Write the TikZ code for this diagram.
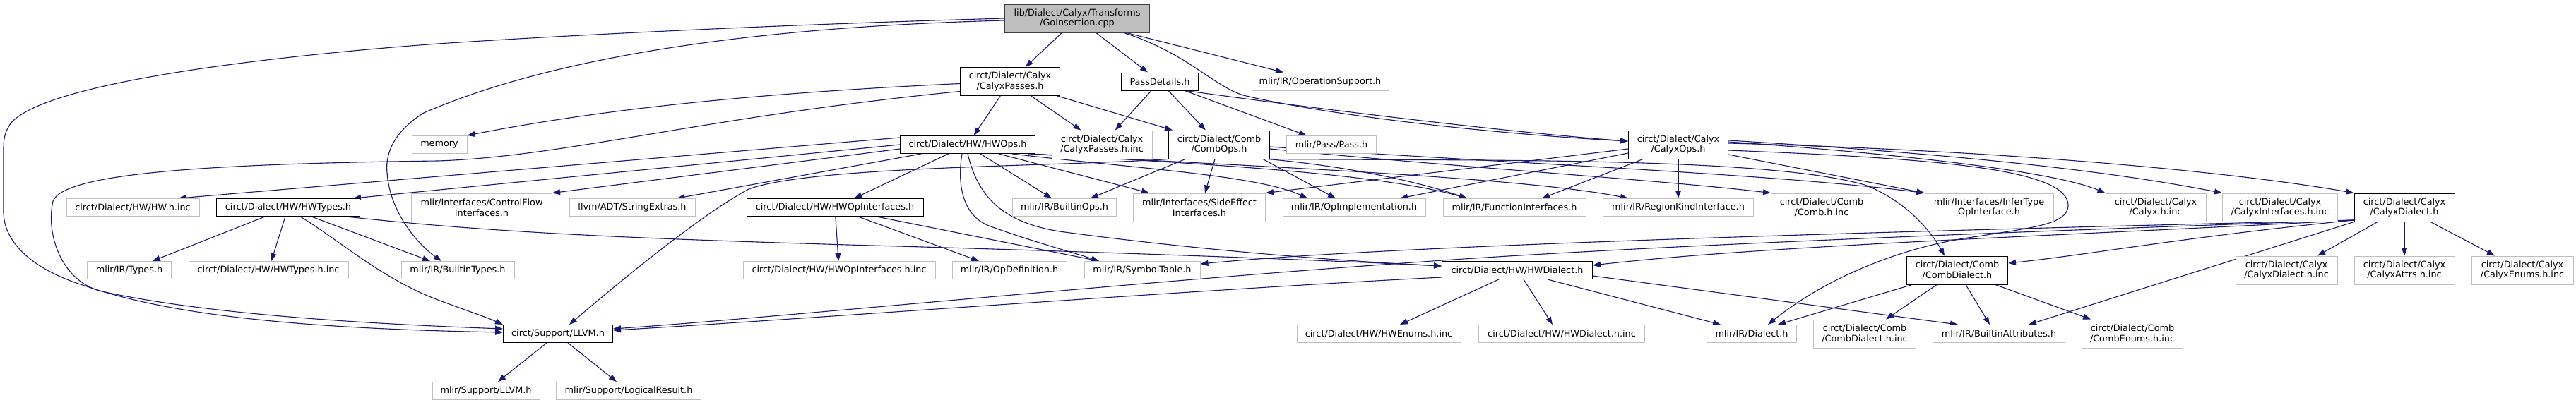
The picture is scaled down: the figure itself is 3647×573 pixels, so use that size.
\documentclass[tikz,border=0pt]{standalone}
\usepackage{fontspec}
\setmainfont{DejaVu Sans}
\usetikzlibrary{arrows.meta}
\pgfdeclarelayer{bg}
\pgfsetlayers{bg,main}
\definecolor{edgec}{HTML}{191970}
\definecolor{grayb}{HTML}{BFBFBF}
\definecolor{rootf}{HTML}{BFBFBF}
\definecolor{rootb}{HTML}{404040}
\newcommand\dgfont{\fontsize{12.8pt}{14.7pt}\selectfont}
\tikzset{
  box/.style={draw=grayb, line width=1pt, fill=white, inner xsep=4pt, inner ysep=1pt,
    align=center, font=\dgfont, minimum height=25pt},
  doc/.style={box, draw=black},
  root/.style={box, draw=rootb, fill=rootf},
  two/.style={minimum height=40pt},
  dep/.style={draw=edgec, line width=1.1pt, -{Triangle[length=11pt,width=8pt]}},
}
\begin{document}
\begin{tikzpicture}[x=1pt,y=-1pt]
\useasboundingbox (0,0) rectangle (3647,573);
% row 0
\node[root,two,minimum width=205pt] (G) at (1525,26) {lib/Dialect/Calyx/Transforms\\/GoInsertion.cpp};
% row 1
\node[doc,two,minimum width=141pt] (CP) at (1430,115.5) {circt/Dialect/Calyx\\/CalyxPasses.h};
\node[doc,minimum width=109pt] (PD) at (1642,115.5) {PassDetails.h};
\node[box,minimum width=194pt] (OS) at (1869,115.5) {mlir/IR/OperationSupport.h};
% row 2
\node[box,minimum width=78pt] (mem) at (622,205) {memory};
\node[doc,minimum width=191pt] (HO) at (1370,205) {circt/Dialect/HW/HWOps.h};
\node[box,two,minimum width=142pt] (CPinc) at (1560,205) {circt/Dialect/Calyx\\/CalyxPasses.h.inc};
\node[doc,two,minimum width=143pt] (CO) at (1726,205) {circt/Dialect/Comb\\/CombOps.h};
\node[box,minimum width=127pt] (PS) at (1885,205) {mlir/Pass/Pass.h};
\node[doc,two,minimum width=141pt] (CX) at (2376,205) {circt/Dialect/Calyx\\/CalyxOps.h};
% row 3
\node[box,minimum width=188pt] (HWinc) at (188,294) {circt/Dialect/HW/HW.h.inc};
\node[doc,minimum width=203pt] (HT) at (408,294) {circt/Dialect/HW/HWTypes.h};
\node[box,two,minimum width=199pt] (CF) at (682,294) {mlir/Interfaces/ControlFlow\\Interfaces.h};
\node[box,minimum width=178pt] (SE) at (895,294) {llvm/ADT/StringExtras.h};
\node[doc,minimum width=250pt] (HOI) at (1182,294) {circt/Dialect/HW/HWOpInterfaces.h};
\node[box,minimum width=147pt] (BO) at (1507,294) {mlir/IR/BuiltinOps.h};
\node[box,two,minimum width=187pt] (SEI) at (1698,294) {mlir/Interfaces/SideEffect\\Interfaces.h};
\node[box,minimum width=202pt] (OI) at (1917,294) {mlir/IR/OpImplementation.h};
\node[box,minimum width=202pt] (FI) at (2144,294) {mlir/IR/FunctionInterfaces.h};
\node[box,minimum width=213pt] (RK) at (2376,294) {mlir/IR/RegionKindInterface.h};
\node[box,two,minimum width=143pt] (CBinc) at (2579,294) {circt/Dialect/Comb\\/Comb.h.inc};
\node[box,two,minimum width=182pt] (IT) at (2816,294) {mlir/Interfaces/InferType\\OpInterface.h};
\node[box,two,minimum width=142pt] (CLinc) at (3052,294) {circt/Dialect/Calyx\\/Calyx.h.inc};
\node[box,two,minimum width=163pt] (CIinc) at (3228,294) {circt/Dialect/Calyx\\/CalyxInterfaces.h.inc};
\node[doc,two,minimum width=142pt] (CD) at (3404,294) {circt/Dialect/Calyx\\/CalyxDialect.h};
% row 4
\node[box,minimum width=119pt] (TY) at (183,383) {mlir/IR/Types.h};
\node[box,minimum width=226pt] (HTinc) at (380,383) {circt/Dialect/HW/HWTypes.h.inc};
\node[box,minimum width=160pt] (BT) at (648,383) {mlir/IR/BuiltinTypes.h};
\node[box,minimum width=272pt] (HOIinc) at (1188,383) {circt/Dialect/HW/HWOpInterfaces.h.inc};
\node[box,minimum width=162pt] (OD) at (1429,383) {mlir/IR/OpDefinition.h};
\node[box,minimum width=164pt] (ST) at (1617,383) {mlir/IR/SymbolTable.h};
\node[doc,minimum width=213pt] (HD) at (2148,383) {circt/Dialect/HW/HWDialect.h};
\node[doc,two,minimum width=143pt] (CBD) at (2771,383) {circt/Dialect/Comb\\/CombDialect.h};
\node[box,two,minimum width=144pt] (CDinc) at (3237,383) {circt/Dialect/Calyx\\/CalyxDialect.h.inc};
\node[box,two,minimum width=142pt] (CAinc) at (3404,383) {circt/Dialect/Calyx\\/CalyxAttrs.h.inc};
\node[box,two,minimum width=144pt] (CEinc) at (3571,383) {circt/Dialect/Calyx\\/CalyxEnums.h.inc};
% row 5
\node[doc,minimum width=155pt] (LL) at (790,473) {circt/Support/LLVM.h};
\node[box,minimum width=232pt] (HEinc) at (1952,473) {circt/Dialect/HW/HWEnums.h.inc};
\node[box,minimum width=235pt] (HDinc) at (2211,473) {circt/Dialect/HW/HWDialect.h.inc};
\node[box,minimum width=127pt] (DI) at (2480,473) {mlir/IR/Dialect.h};
\node[box,two,minimum width=145pt] (CBDinc) at (2640,473) {circt/Dialect/Comb\\/CombDialect.h.inc};
\node[box,minimum width=187pt] (BA) at (2830,473) {mlir/IR/BuiltinAttributes.h};
\node[box,two,minimum width=143pt] (CBEinc) at (3019,473) {circt/Dialect/Comb\\/CombEnums.h.inc};
% row 6
\node[box,minimum width=152pt] (ML) at (688,554) {mlir/Support/LLVM.h};
\node[box,minimum width=205pt] (LR) at (890,554) {mlir/Support/LogicalResult.h};

\begin{pgfonlayer}{bg}
% GoInsertion.cpp
\draw[dep] (G) -- (CP);
\draw[dep] (G) -- (PD);
\draw[dep] ([xshift=70pt]G.south) -- ([xshift=-52pt]OS.north);
\draw[dep] ([xshift=66pt]G.south) .. controls (1680,75) and (1715,120) .. (1760,135) .. controls (1900,168) and (2150,192) .. ([yshift=5pt]CX.west);
\draw[dep] ([yshift=-3pt]G.west) .. controls (1000,40) and (750,95) .. (600,160) .. controls (560,185) and (545,215) .. (548,245) .. controls (552,300) and (590,345) .. ([xshift=-23pt]BT.north);
\draw[dep] (G.west) .. controls (1100,35) and (800,50) .. (620,62) .. controls (350,82) and (60,120) .. (15,175) .. controls (5,190) and (5,200) .. (5,215) -- (5,300) .. controls (5,340) and (40,380) .. (120,405) .. controls (250,450) and (450,466) .. ([yshift=2pt]LL.west);
% CalyxPasses.h
\draw[dep] (CP) -- (HO);
\draw[dep] (CP) -- (CPinc);
\draw[dep] ([xshift=-4pt]CP.south east) -- ([xshift=6pt]CO.north west);
\draw[dep] ([yshift=-3pt]CP.west) .. controls (1000,135) and (800,165) .. (mem.north east);
\draw[dep] ([yshift=-14pt]CP.west) .. controls (1000,165) and (800,222) .. (620,228) .. controls (300,232) and (90,245) .. (75,285) .. controls (65,330) and (85,395) .. (140,412) .. controls (300,448) and (550,460) .. ([yshift=7pt]LL.west);
% PassDetails.h
\draw[dep] (PD) -- (CPinc);
\draw[dep] (PD) -- (CO);
\draw[dep] (PD) -- (PS);
\draw[dep] ([xshift=-18pt]PD.south east) .. controls (1760,140) and (2100,185) .. ([yshift=5pt]CX.west);
% HWOps.h
\draw[dep] ([yshift=10pt]HO.west) -- ([xshift=-30pt]HWinc.north east);
\draw[dep] (HO.west) -- ([xshift=-10pt]HT.north east);
\draw[dep] ([yshift=-6pt]HO.west) -- (CF.north east);
\draw[dep] ([xshift=30pt]HO.south west) -- ([xshift=-26pt]SE.north east);
\draw[dep] (HO) -- (HOI);
\draw[dep] ([xshift=-8pt]HO.south) .. controls (1355,260) and (1362,305) .. (1400,320) .. controls (1460,342) and (1520,358) .. ([xshift=-61pt]ST.north);
\draw[dep] (HO.south) .. controls (1385,280) and (1420,315) .. (1500,328) .. controls (1700,355) and (1900,370) .. ([yshift=6pt]HD.west);
\draw[dep] ([xshift=18pt]HO.south) -- ([xshift=-18pt]BO.north);
\draw[dep] ([xshift=44pt]HO.south) -- ([xshift=-71pt]SEI.north);
\draw[dep] ([xshift=63pt]HO.south) .. controls (1600,238) and (1780,248) .. ([xshift=-66pt]OI.north);
\draw[dep] ([xshift=-10pt]HO.south east) .. controls (1700,232) and (1950,245) .. ([xshift=-67pt]FI.north);
\draw[dep] ([xshift=-5pt]HO.south east) .. controls (1750,235) and (2150,250) .. ([xshift=-71pt]RK.north);
% CombOps.h
\draw[dep] (CO.south east) .. controls (2100,228) and (2500,222) .. (2640,262) .. controls (2700,285) and (2735,330) .. ([xshift=-18pt]CBD.north);
\draw[dep] ([yshift=-6pt]CO.east) .. controls (2100,240) and (2350,255) .. (CBinc.north west);
\draw[dep] ([yshift=-3pt]CO.east) .. controls (2100,230) and (2500,245) .. (IT.north west);
\draw[dep] ([xshift=-48pt]CO.south) -- ([xshift=37pt]BO.north);
\draw[dep] ([xshift=-6pt]CO.south) -- ([xshift=8pt]SEI.north);
\draw[dep] ([xshift=-10pt]CO.south east) -- ([xshift=-26pt]OI.north);
\draw[dep] ([xshift=-3pt]CO.south east) .. controls (1900,235) and (2000,255) .. ([xshift=-67pt]FI.north);
\draw[dep] (CO.south west) .. controls (1500,236) and (1150,235) .. (1060,268) .. controls (1000,300) and (900,380) .. ([xshift=16pt]LL.north);
% CalyxOps.h
\draw[dep] ([yshift=-12pt]CX.west) -- ([xshift=65pt]OI.north);
\draw[dep] ([xshift=-50pt]CX.south) -- ([xshift=39pt]FI.north);
\draw[dep] (CX) -- (RK);
\draw[dep] ([yshift=-6pt]CX.west) -- (SEI.north east);
\draw[dep] ([yshift=-14pt]CX.east) -- (IT.north west);
\draw[dep] ([yshift=4pt]CX.east) .. controls (2650,215) and (2900,240) .. (CLinc.north west);
\draw[dep] ([yshift=6pt]CX.east) .. controls (2800,220) and (3000,245) .. (CIinc.north west);
\draw[dep] ([yshift=2pt]CX.east) .. controls (2900,215) and (3200,250) .. (CD.north west);
\draw[dep] ([yshift=-8pt]CX.east) .. controls (2750,225) and (2930,240) .. (2928,292) .. controls (2926,318) and (2880,322) .. (2800,335) .. controls (2700,348) and (2590,390) .. ([xshift=23pt]DI.north);
% HWTypes.h
\draw[dep] (HT) -- (TY);
\draw[dep] (HT) -- (HTinc);
\draw[dep] ([xshift=17pt]HT.south) .. controls (480,340) and (540,395) .. (620,425) .. controls (660,440) and (690,450) .. (LL.north west);
\draw[dep] ([xshift=33pt]HT.south) -- ([xshift=-39pt]BT.north);
\draw[dep] ([xshift=-20pt]HT.south east) .. controls (700,330) and (900,338) .. (1200,347) .. controls (1600,358) and (1900,370) .. ([yshift=6pt]HD.west);
% HWOpInterfaces.h
\draw[dep] (HOI) -- (HOIinc);
\draw[dep] ([xshift=33pt]HOI.south) -- ([xshift=-43pt]OD.north);
\draw[dep] ([xshift=59pt]HOI.south) -- ([xshift=-61pt]ST.north);
% HWDialect.h
\draw[dep] ([xshift=-26pt]HD.south) -- ([xshift=30pt]HEinc.north);
\draw[dep] ([xshift=9pt]HD.south) -- ([xshift=-13pt]HDinc.north);
\draw[dep] ([xshift=43pt]HD.south) -- ([xshift=-44pt]DI.north);
\draw[dep] ([yshift=-8pt]HD.east) -- ([xshift=-58pt]BA.north);
\draw[dep] ([yshift=-10pt]HD.west) .. controls (1700,410) and (1100,455) .. ([yshift=5pt]LL.east);
% CombDialect.h
\draw[dep] ([xshift=-64pt]CBD.south) -- ([xshift=37pt]DI.north);
\draw[dep] ([xshift=-29pt]CBD.south) -- ([xshift=30pt]CBDinc.north);
\draw[dep] ([xshift=12pt]CBD.south) -- ([xshift=-13pt]BA.north);
\draw[dep] ([xshift=54pt]CBD.south) -- ([xshift=-59pt]CBEinc.north);
% CalyxDialect.h
\draw[dep] ([xshift=-38pt]CD.south) -- ([xshift=44pt]CDinc.north);
\draw[dep] (CD) -- (CAinc);
\draw[dep] ([xshift=37pt]CD.south) -- ([xshift=-39pt]CEinc.north);
\draw[dep] (CD.south west) -- ([xshift=42pt]BA.north);
\draw[dep] ([yshift=-18pt]CD.west) .. controls (3100,335) and (2950,362) .. ([yshift=10pt]CBD.east);
\draw[dep] ([yshift=-18pt]CD.west) .. controls (2900,335) and (2500,348) .. ([yshift=7pt]HD.east);
\draw[dep] ([yshift=-18pt]CD.west) .. controls (2800,325) and (2000,345) .. ([yshift=9pt]ST.east);
\draw[dep] ([yshift=-18pt]CD.west) .. controls (2800,330) and (2300,350) .. (2000,372) .. controls (1600,400) and (1100,450) .. ([yshift=7pt]LL.east);
% circt/Support/LLVM.h
\draw[dep] ([xshift=-16pt]LL.south) -- ([xshift=17pt]ML.north);
\draw[dep] ([xshift=14pt]LL.south) -- ([xshift=-17pt]LR.north);
\end{pgfonlayer}
\end{tikzpicture}
\end{document}
